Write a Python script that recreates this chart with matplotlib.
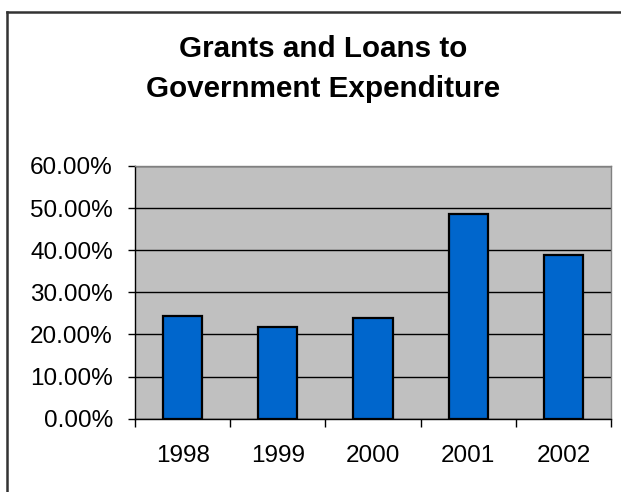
import matplotlib
matplotlib.use("Agg")
import matplotlib.pyplot as plt
from matplotlib.lines import Line2D
from matplotlib.ticker import FuncFormatter, MultipleLocator

years = ["1998", "1999", "2000", "2001", "2002"]
values = [24.5, 21.7, 24.0, 48.6, 38.8]
title_lines = ["Grants and Loans to", "Government Expenditure"]

plt.rcParams['font.family'] = ['Liberation Sans', 'DejaVu Sans']

W, H = 621, 492
fig = plt.figure(figsize=(W / 100, H / 100), dpi=100)
fig.patch.set_facecolor('white')

ax = fig.add_axes([135 / W, 1 - 418.7 / H, (611 - 135) / W, (418.7 - 166) / H])
ax.set_facecolor('#C0C0C0')
x = list(range(len(years)))
ax.bar(x, values, width=0.41, color='#0066CC', edgecolor='black', linewidth=1.6, zorder=3)

ax.set_ylim(0, 60)
ax.set_xlim(-0.5, len(years) - 0.5)
ax.yaxis.set_major_locator(MultipleLocator(10))
ax.yaxis.set_major_formatter(FuncFormatter(lambda v, p: f"{v:.2f}%"))
ax.yaxis.grid(True, color='black', linewidth=1.0, zorder=1)
ax.set_axisbelow(True)

ax.set_xticks(x)
ax.set_xticklabels(years)
ax.set_xticks([i - 0.5 for i in range(len(years) + 1)], minor=True)
ax.tick_params(axis='x', which='major', length=0, pad=19, labelsize=17.5)
ax.tick_params(axis='x', which='minor', length=6, width=1, direction='out', color='black')
ax.tick_params(axis='y', which='major', length=5.3, width=1, direction='out', pad=10.6, labelsize=17.5)

for s in ['left', 'bottom']:
    ax.spines[s].set_color('black')
    ax.spines[s].set_linewidth(1.0)
for s in ['top', 'right']:
    ax.spines[s].set_color('#808080')
    ax.spines[s].set_linewidth(1.0)

baselines = [57.3, 97.3]
for line, yb in zip(title_lines, baselines):
    fig.text(323 / W, 1 - yb / H, line, ha='center', va='baseline', fontsize=21.3,
             fontweight='bold')

# chart-area border (top and left visible)
fig.add_artist(Line2D([7 / W, 1], [1 - 11.5 / H, 1 - 11.5 / H], color='#333333', linewidth=1.8,
                      transform=fig.transFigure))
fig.add_artist(Line2D([7 / W, 7 / W], [0, 1 - 11.5 / H], color='#333333', linewidth=1.8,
                      transform=fig.transFigure))

fig.savefig('out.png', dpi=100)
